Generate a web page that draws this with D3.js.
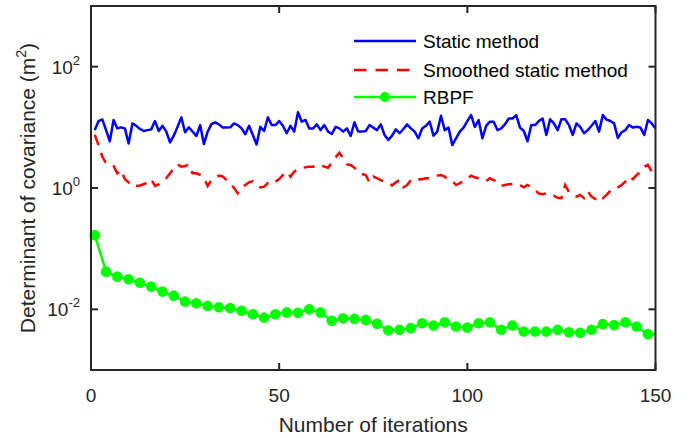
<!DOCTYPE html>
<html>
<head>
<meta charset="utf-8">
<script src="https://cdn.jsdelivr.net/npm/d3@7"></script>
<style>
  body { margin: 0; background: #fff; }
  svg { font-family: "Liberation Sans", Arial, Helvetica, sans-serif; }
</style>
</head>
<body>
<div id="chart"></div>
<script>
// Static method, iterations 1..150
var staticVals = [
  9.0, 12.7, 13.5, 9.0, 5.9, 13.2, 9.6, 10.0, 9.6, 5.4,
  11.6, 10.6, 9.4, 8.7, 9.0, 9.25, 12.7, 8.7, 10.6, 8.5,
  5.65, 7.3, 10.2, 14.6, 8.3, 10.0, 8.5, 7.2, 10.9, 5.3,
  8.5, 11.3, 12.1, 11.2, 9.9, 9.9, 10.0, 11.6, 10.9, 9.6,
  7.7, 10.6, 7.5, 5.2, 10.2, 8.7, 14.6, 10.9, 10.9, 12.7,
  10.6, 8.0, 10.6, 8.5, 17.7, 12.4, 13.2, 9.6, 9.6, 11.2,
  9.0, 10.9, 8.5, 7.8, 10.2, 9.6, 8.5, 9.6, 7.2, 12.1,
  8.5, 8.5, 8.7, 10.9, 9.9, 9.0, 11.2, 7.5, 6.2, 7.3,
  9.25, 8.0, 9.4, 11.2, 9.6, 8.5, 6.6, 9.6, 10.6, 12.4,
  7.3, 8.5, 15.5, 9.0, 9.9, 5.1, 6.6, 8.5, 9.9, 12.7,
  15.9, 10.2, 13.2, 6.6, 10.6, 12.4, 12.4, 9.0, 9.6, 11.2,
  14.0, 14.0, 15.9, 9.9, 8.7, 5.9, 10.9, 10.9, 12.7, 14.0,
  7.5, 13.6, 11.6, 9.0, 13.6, 13.6, 10.9, 7.5, 11.6, 10.2,
  8.0, 9.0, 10.6, 12.7, 8.5, 15.9, 13.4, 12.7, 11.6, 6.7,
  8.3, 9.0, 10.9, 9.9, 10.2, 9.9, 7.5, 13.2, 11.6, 9.6
];

// Smoothed static method, iterations 1..150
var smoothedVals = [
  7.5, 5.1, 3.3, 2.55, 2.4, 2.3, 1.75, 1.98, 1.4, 1.24,
  1.05, 1.08, 1.1, 1.15, 1.24, 1.4, 1.08, 1.15, 1.3, 1.45,
  1.75, 2.1, 2.45, 2.25, 2.3, 2.45, 1.75, 1.75, 1.65, 1.45,
  1.08, 1.35, 1.5, 1.6, 1.55, 1.35, 1.2, 1.0, 0.82, 1.03,
  1.12, 1.24, 1.3, 1.12, 1.02, 1.05, 1.2, 1.15, 1.27, 1.4,
  1.64, 1.86, 1.54, 1.86, 2.03, 2.16, 2.2, 2.25, 2.25, 2.35,
  2.4, 2.25, 2.16, 2.65, 3.2, 3.8, 3.1, 2.45, 2.4, 2.16,
  1.86, 1.7, 1.64, 1.24, 1.54, 1.45, 1.35, 1.27, 1.24, 1.1,
  1.24, 1.35, 1.03, 1.12, 1.35, 1.45, 1.4, 1.4, 1.45, 1.45,
  1.54, 1.6, 1.64, 1.54, 1.35, 1.3, 1.12, 1.2, 1.3, 1.4,
  1.6, 1.5, 1.45, 1.4, 1.3, 1.45, 1.35, 1.27, 1.08, 1.12,
  1.15, 1.16, 1.16, 1.12, 1.03, 1.12, 1.05, 0.93, 0.81, 0.79,
  0.82, 0.79, 0.75, 0.69, 0.68, 1.12, 0.86, 0.77, 0.72, 0.77,
  0.68, 0.88, 0.72, 0.66, 0.75, 0.68, 0.77, 0.9, 1.0, 1.03,
  1.12, 1.27, 1.54, 1.4, 1.64, 1.86, 2.25, 2.4, 1.86, 1.54
];

// RBPF, sampled iterations (marker every 3rd)
var rbpfIter = [
  1, 4, 7, 10, 13, 16, 19, 22, 25, 28,
  31, 34, 37, 40, 43, 46, 49, 52, 55, 58,
  61, 64, 67, 70, 73, 76, 79, 82, 85, 88,
  91, 94, 97, 100, 103, 106, 109, 112, 115, 118,
  121, 124, 127, 130, 133, 136, 139, 142, 145, 148, 150
];
var rbpfVals = [
  0.168, 0.0418, 0.0346, 0.0313, 0.0275, 0.0237, 0.0196, 0.0168, 0.0134, 0.0126,
  0.0114, 0.0108, 0.0105, 0.0095, 0.0083, 0.0073, 0.0083, 0.0089, 0.0088, 0.0100,
  0.0089, 0.0065, 0.0071, 0.0070, 0.0067, 0.0058, 0.0045, 0.0046, 0.0049, 0.0059,
  0.0054, 0.0061, 0.0052, 0.0050, 0.0059, 0.0061, 0.0046, 0.0054, 0.0043, 0.0043,
  0.0043, 0.0046, 0.0042, 0.0041, 0.0046, 0.0057, 0.0055, 0.0061, 0.0052, 0.0039, 0.0039
];

var xTicks = [0, 50, 100, 150];
var yTicks = [1e-2, 1, 1e2];
var yTickExp = ["-2", "0", "2"];
var legendLabels = ["Static method", "Smoothed static method", "RBPF"];

(function() {
var W = 697, H = 438;
var mLeft = 91, mRight = 655.5, mTop = 6, mBottom = 370;
var ink = "#262626";
var lw = 2.5;

var svg = d3.select("#chart").append("svg")
    .attr("width", W).attr("height", H);

var x = d3.scaleLinear().domain([0, 150]).range([mLeft, mRight]);
var y = d3.scaleLog().domain([1e-3, 1e3]).range([mBottom, mTop]);

// data lines
var lineFn = d3.line()
    .x(function(d) { return x(d[0]); })
    .y(function(d) { return y(d[1]); });

var staticPts = staticVals.map(function(v, i) { return [i + 1, v]; });
var smoothPts = smoothedVals.map(function(v, i) { return [i + 1, v]; });
var rbpfPts = rbpfIter.map(function(it, i) { return [it, rbpfVals[i]]; });

svg.append("path").datum(staticPts)
    .attr("d", lineFn).attr("fill", "none")
    .attr("stroke", "#0000ff").attr("stroke-width", lw)
    .attr("stroke-linejoin", "round");

svg.append("path").datum(smoothPts)
    .attr("d", lineFn).attr("fill", "none")
    .attr("stroke", "#ff0000").attr("stroke-width", lw)
    .attr("stroke-dasharray", "11,8");

svg.append("path").datum(rbpfPts)
    .attr("d", lineFn).attr("fill", "none")
    .attr("stroke", "#00ff00").attr("stroke-width", lw);

svg.selectAll("circle.rbpf")
    .data(rbpfPts.filter(function(d) { return d[0] % 3 === 1; }))
    .enter().append("circle")
    .attr("class", "rbpf")
    .attr("cx", function(d) { return x(d[0]); })
    .attr("cy", function(d) { return y(d[1]); })
    .attr("r", 5.3)
    .attr("fill", "#00ff00");

// box + ticks
svg.append("rect")
    .attr("x", mLeft).attr("y", mTop)
    .attr("width", mRight - mLeft).attr("height", mBottom - mTop)
    .attr("fill", "none").attr("stroke", ink).attr("stroke-width", 2);

var tl = 7;
xTicks.forEach(function(t) {
    svg.append("line").attr("x1", x(t)).attr("x2", x(t))
        .attr("y1", mBottom).attr("y2", mBottom - tl)
        .attr("stroke", ink).attr("stroke-width", 2);
    svg.append("line").attr("x1", x(t)).attr("x2", x(t))
        .attr("y1", mTop).attr("y2", mTop + tl)
        .attr("stroke", ink).attr("stroke-width", 2);
    svg.append("text").attr("x", x(t)).attr("y", 402)
        .attr("text-anchor", "middle").attr("font-size", 19)
        .attr("fill", ink).text(t);
});

yTicks.forEach(function(t, i) {
    svg.append("line").attr("x1", mLeft).attr("x2", mLeft + tl)
        .attr("y1", y(t)).attr("y2", y(t))
        .attr("stroke", ink).attr("stroke-width", 2);
    svg.append("line").attr("x1", mRight).attr("x2", mRight - tl)
        .attr("y1", y(t)).attr("y2", y(t))
        .attr("stroke", ink).attr("stroke-width", 2);
    var txt = svg.append("text").attr("x", 80).attr("y", y(t) + 7)
        .attr("text-anchor", "end").attr("font-size", 19).attr("fill", ink);
    txt.append("tspan").text("10");
    txt.append("tspan").attr("font-size", 13).attr("dy", -9).text(yTickExp[i]);
});

// axis labels
svg.append("text").attr("x", (mLeft + mRight) / 2).attr("y", 432)
    .attr("text-anchor", "middle").attr("font-size", 21)
    .attr("fill", ink).text("Number of iterations");

var yl = svg.append("text")
    .attr("transform", "translate(35," + ((mTop + mBottom) / 2) + ") rotate(-90)")
    .attr("text-anchor", "middle").attr("font-size", 21).attr("fill", ink);
yl.append("tspan").text("Determinant of covariance (m");
yl.append("tspan").attr("font-size", 14).attr("dy", -9).text("2");
yl.append("tspan").attr("dy", 9).text(")");

// legend
var legY = [41, 70, 97];
var lx0 = 354, lx1 = 416;
svg.append("line").attr("x1", lx0).attr("x2", lx1).attr("y1", legY[0]).attr("y2", legY[0])
    .attr("stroke", "#0000ff").attr("stroke-width", lw);
svg.append("line").attr("x1", lx0).attr("x2", lx1).attr("y1", legY[1]).attr("y2", legY[1])
    .attr("stroke", "#ff0000").attr("stroke-width", lw).attr("stroke-dasharray", "12.5,9");
svg.append("line").attr("x1", lx0).attr("x2", lx1).attr("y1", legY[2]).attr("y2", legY[2])
    .attr("stroke", "#00ff00").attr("stroke-width", lw);
svg.append("circle").attr("cx", (lx0 + lx1) / 2).attr("cy", legY[2]).attr("r", 5)
    .attr("fill", "#00ff00");
legendLabels.forEach(function(s, i) {
    svg.append("text").attr("x", 423).attr("y", legY[i] + 7)
        .attr("font-size", 19).attr("fill", "#000").text(s);
});
})();
</script>
</body>
</html>
